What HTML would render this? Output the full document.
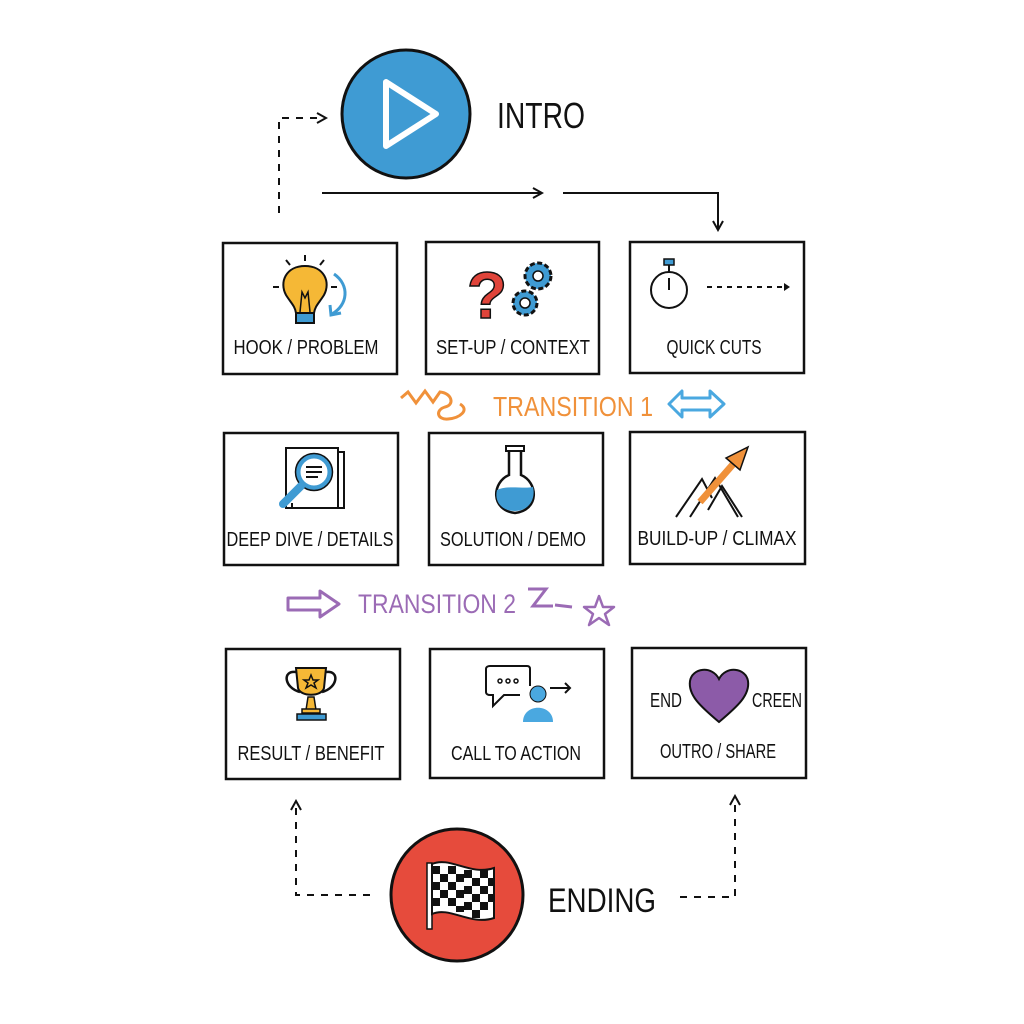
<!DOCTYPE html>
<html><head><meta charset="utf-8"><style>
html,body{margin:0;padding:0;background:#fff}
svg{display:block}
text{font-family:"Liberation Sans Narrow","Liberation Sans",sans-serif}
</style></head><body>
<svg width="1024" height="1024" viewBox="0 0 1024 1024" xmlns="http://www.w3.org/2000/svg">
<defs>
<marker id="ah" markerWidth="12" markerHeight="12" refX="10" refY="6" orient="auto" markerUnits="userSpaceOnUse">
<path d="M1,1 L10,6 L1,11" fill="none" stroke="#111" stroke-width="2"/></marker>
</defs>
<rect width="1024" height="1024" fill="#fff"/>

<circle cx="406" cy="114" r="64" fill="#3f9bd3" stroke="#111" stroke-width="3"/>
<path d="M386,82 L386,146 L436,114 Z" fill="none" stroke="#fff" stroke-width="6" stroke-linejoin="round"/>
<text x="497" y="128" font-size="36" fill="#111" textLength="88" lengthAdjust="spacingAndGlyphs">INTRO</text>

<path d="M279,213 L279,118 L326,118" fill="none" stroke="#111" stroke-width="2" stroke-dasharray="7,7" marker-end="url(#ah)"/>
<path d="M322,193 L542,193" fill="none" stroke="#111" stroke-width="2" marker-end="url(#ah)"/>
<path d="M563,193 L718,193 L718,230" fill="none" stroke="#111" stroke-width="2" marker-end="url(#ah)"/>

<g fill="#fff" stroke="#111" stroke-width="2.5">
<rect x="223" y="243" width="174" height="131"/>
<rect x="426" y="242" width="173" height="132"/>
<rect x="630" y="242" width="174" height="131"/>
<rect x="224" y="433" width="174" height="132"/>
<rect x="429" y="433" width="174" height="132"/>
<rect x="630" y="432" width="175" height="132"/>
<rect x="226" y="649" width="174" height="130"/>
<rect x="430" y="649" width="174" height="129"/>
<rect x="632" y="648" width="174" height="130"/>
</g>

<g font-size="20" fill="#111" text-anchor="middle">
<text x="306" y="354" textLength="145" lengthAdjust="spacingAndGlyphs">HOOK / PROBLEM</text>
<text x="513" y="354" textLength="154" lengthAdjust="spacingAndGlyphs">SET-UP / CONTEXT</text>
<text x="714" y="354" textLength="95" lengthAdjust="spacingAndGlyphs">QUICK CUTS</text>
<text x="310" y="546" textLength="167" lengthAdjust="spacingAndGlyphs">DEEP DIVE / DETAILS</text>
<text x="513" y="546" textLength="146" lengthAdjust="spacingAndGlyphs">SOLUTION / DEMO</text>
<text x="717" y="545" textLength="159" lengthAdjust="spacingAndGlyphs">BUILD-UP / CLIMAX</text>
<text x="311" y="760" textLength="147" lengthAdjust="spacingAndGlyphs">RESULT / BENEFIT</text>
<text x="516" y="760" textLength="130" lengthAdjust="spacingAndGlyphs">CALL TO ACTION</text>
<text x="718" y="758" textLength="116" lengthAdjust="spacingAndGlyphs">OUTRO / SHARE</text>
<text x="666" y="707" textLength="32" lengthAdjust="spacingAndGlyphs">END</text>
<text x="777" y="707" textLength="50" lengthAdjust="spacingAndGlyphs">CREEN</text>
</g>

<g stroke="#111" stroke-width="2">
<path d="M305,266 C286,266 279,282 286,295 C291,303 295,306 296,313 L314,313 C315,306 319,303 324,295 C331,282 324,266 305,266 Z" fill="#f5b836"/>
<path d="M300,312 L302,292 L305,298 L308,292 L310,312" fill="none" stroke-width="1.5"/>
<rect x="296" y="313" width="18" height="10" fill="#3f9bd3"/>
<path d="M305,255 L305,261 M286,260 L290,265 M324,260 L320,265 M273,287 L279,287 M331,287 L337,287" fill="none"/>
<path d="M334,274 C350,285 348,305 332,314" fill="none" stroke="#3f9bd3" stroke-width="3"/>
<path d="M330,305 L331,315 L341,313" fill="none" stroke="#3f9bd3" stroke-width="3"/>
</g>
<text x="487" y="318" font-size="66" font-weight="bold" fill="#e0443a" stroke="#111" stroke-width="1.5" text-anchor="middle" font-family="Liberation Sans">?</text>
<circle cx="538" cy="276" r="13" fill="#3f9bd3" stroke="#111" stroke-width="3" stroke-dasharray="5,2.5"/>
<circle cx="538" cy="276" r="5" fill="#fff" stroke="#111" stroke-width="1.5"/>
<circle cx="525" cy="303" r="12" fill="#3f9bd3" stroke="#111" stroke-width="3" stroke-dasharray="5,2.5"/>
<circle cx="525" cy="303" r="5" fill="#fff" stroke="#111" stroke-width="1.5"/>
<circle cx="669" cy="290" r="18" fill="#fff" stroke="#111" stroke-width="2"/>
<rect x="664" y="259" width="10" height="6" fill="#3f9bd3" stroke="#111" stroke-width="1.5"/>
<path d="M669,265 L669,272 M669,290 L669,278" stroke="#111" stroke-width="2"/>
<path d="M707,287 L785,287" stroke="#111" stroke-width="2" stroke-dasharray="5,5"/>
<path d="M784,283 L790,287 L784,291 Z" fill="#111"/>

<path d="M401,398 L408,392 L416,403 L425,391 L433,402 L440,392 C452,393 455,405 445,407 C435,410 437,420 448,419 C460,418 470,410 460,404" fill="none" stroke="#f0913a" stroke-width="3"/>
<text x="493" y="416" font-size="28" fill="#f0913a" textLength="160" lengthAdjust="spacingAndGlyphs">TRANSITION 1</text>
<path d="M669,404 L682,391 L682,398 L710,398 L710,391 L724,404 L710,417 L710,410 L682,410 L682,417 Z" fill="none" stroke="#4aa8e0" stroke-width="3" stroke-linejoin="round"/>

<rect x="286" y="448" width="52" height="60" fill="#fff" stroke="#111" stroke-width="2"/>
<path d="M338,452 L344,452 L344,508 L292,508 L292,503" fill="none" stroke="#111" stroke-width="2"/>
<circle cx="314" cy="472" r="16" fill="#fff" stroke="#3f9bd3" stroke-width="5"/>
<circle cx="314" cy="472" r="18.5" fill="none" stroke="#111" stroke-width="1.5"/>
<path d="M306,467 L322,467 M306,472 L322,472 M306,477 L318,477" stroke="#111" stroke-width="2"/>
<path d="M301,486 L283,504" stroke="#3f9bd3" stroke-width="8" stroke-linecap="round"/>
<path d="M509,449 L509,475 C492,482 490,510 515,513 C540,510 538,482 521,475 L521,449 Z" fill="#fff" stroke="#111" stroke-width="2.5"/>
<rect x="506" y="446" width="18" height="5" fill="#fff" stroke="#111" stroke-width="2"/>
<path d="M497,490 C507,485 523,489 533,487 C536,500 528,511 515,511 C502,511 494,502 497,490 Z" fill="#3f9bd3"/>
<path d="M676,517 L702,479 L712,498 M690,517 L715,478 L738,517 M708,510 L722,486 L742,517" fill="none" stroke="#111" stroke-width="2"/>
<path d="M700,502 L735,462" stroke="#f0913a" stroke-width="7"/>
<path d="M726,458 L748,447 L740,470 Z" fill="#f0913a" stroke="#111" stroke-width="1.5"/>

<path d="M288,598 L320,598 L320,591 L339,604 L320,617 L320,610 L288,610 Z" fill="none" stroke="#9b6bb5" stroke-width="3" stroke-linejoin="round"/>
<text x="358" y="613" font-size="27" fill="#9b6bb5" textLength="158" lengthAdjust="spacingAndGlyphs">TRANSITION 2</text>
<path d="M528,589 L546,589 L533,606 L553,606 M555,605 L572,607" fill="none" stroke="#9b6bb5" stroke-width="3"/>
<path d="M599,596 L603,607 L614,607 L605,614 L609,625 L599,618 L589,625 L593,614 L584,607 L595,607 Z" fill="none" stroke="#9b6bb5" stroke-width="2.5" stroke-linejoin="round"/>

<path d="M296,668 L326,668 L324,688 C322,697 300,697 298,688 Z" fill="#f5b836" stroke="#111" stroke-width="2"/>
<path d="M296,672 C282,670 284,688 300,692 M326,672 C340,670 338,688 322,692" fill="none" stroke="#111" stroke-width="2.5"/>
<path d="M308,697 L314,697 L316,710 L306,710 Z" fill="#f5b836" stroke="#111" stroke-width="1.5"/>
<rect x="302" y="709" width="18" height="4" fill="#f5b836" stroke="#111" stroke-width="1.5"/>
<rect x="297" y="714" width="29" height="6" fill="#3f9bd3" stroke="#111" stroke-width="1.5"/>
<path d="M311,675 L313,680 L318,680 L314,683 L316,688 L311,685 L306,688 L308,683 L304,680 L309,680 Z" fill="none" stroke="#111" stroke-width="1.5"/>
<path d="M530,686 L530,669 C530,667 529,666 527,666 L490,666 C488,666 486,667 486,669 L486,692 C486,694 488,695 490,695 L493,695 L493,706 L504,695 L520,695" fill="none" stroke="#111" stroke-width="2"/>
<circle cx="500" cy="681" r="2" fill="none" stroke="#111" stroke-width="1.5"/>
<circle cx="508" cy="681" r="2" fill="none" stroke="#111" stroke-width="1.5"/>
<circle cx="516" cy="681" r="2" fill="none" stroke="#111" stroke-width="1.5"/>
<circle cx="538" cy="694" r="8" fill="#4aa8e0" stroke="#111" stroke-width="1"/>
<path d="M523,722 C523,703 553,703 553,722 Z" fill="#4aa8e0"/>
<path d="M550,688 L570,688 M565,683 L570,688 L565,693" fill="none" stroke="#111" stroke-width="2"/>
<path d="M719,722 C700,706 688,695 690,681 C692,668 712,665 719,679 C726,665 746,668 748,681 C750,695 738,706 719,722 Z" fill="#8c5ba8" stroke="#111" stroke-width="2"/>

<path d="M370,895 L296,895 L296,801" fill="none" stroke="#111" stroke-width="2" stroke-dasharray="7,7" marker-end="url(#ah)"/>
<path d="M680,897 L735,897 L735,796" fill="none" stroke="#111" stroke-width="2" stroke-dasharray="7,7" marker-end="url(#ah)"/>
<circle cx="457" cy="895" r="66" fill="#e64b3c" stroke="#111" stroke-width="3"/>
<rect x="427" y="863" width="5" height="66" fill="#fff" stroke="#111" stroke-width="1.5"/>
<g>
<path d="M432,864 C450,856 470,876 494,868 L494,918 C470,926 450,906 432,914 Z" fill="#fff" stroke="#111" stroke-width="2"/>
<g fill="#111">
<rect x="432" y="866" width="8" height="8"/><rect x="448" y="866" width="8" height="8"/><rect x="464" y="870" width="8" height="8"/><rect x="480" y="870" width="8" height="8"/>
<rect x="440" y="874" width="8" height="8"/><rect x="456" y="874" width="8" height="8"/><rect x="472" y="878" width="8" height="8"/><rect x="488" y="878" width="6" height="8"/>
<rect x="432" y="882" width="8" height="8"/><rect x="448" y="882" width="8" height="8"/><rect x="464" y="886" width="8" height="8"/><rect x="480" y="886" width="8" height="8"/>
<rect x="440" y="890" width="8" height="8"/><rect x="456" y="890" width="8" height="8"/><rect x="472" y="894" width="8" height="8"/><rect x="488" y="894" width="6" height="8"/>
<rect x="432" y="898" width="8" height="8"/><rect x="448" y="898" width="8" height="8"/><rect x="464" y="902" width="8" height="8"/><rect x="480" y="902" width="8" height="8"/>
<rect x="472" y="910" width="8" height="8"/><rect x="456" y="906" width="8" height="6"/>
</g></g>
<text x="548" y="912" font-size="34" fill="#111" textLength="108" lengthAdjust="spacingAndGlyphs">ENDING</text>
</svg>
</body></html>
